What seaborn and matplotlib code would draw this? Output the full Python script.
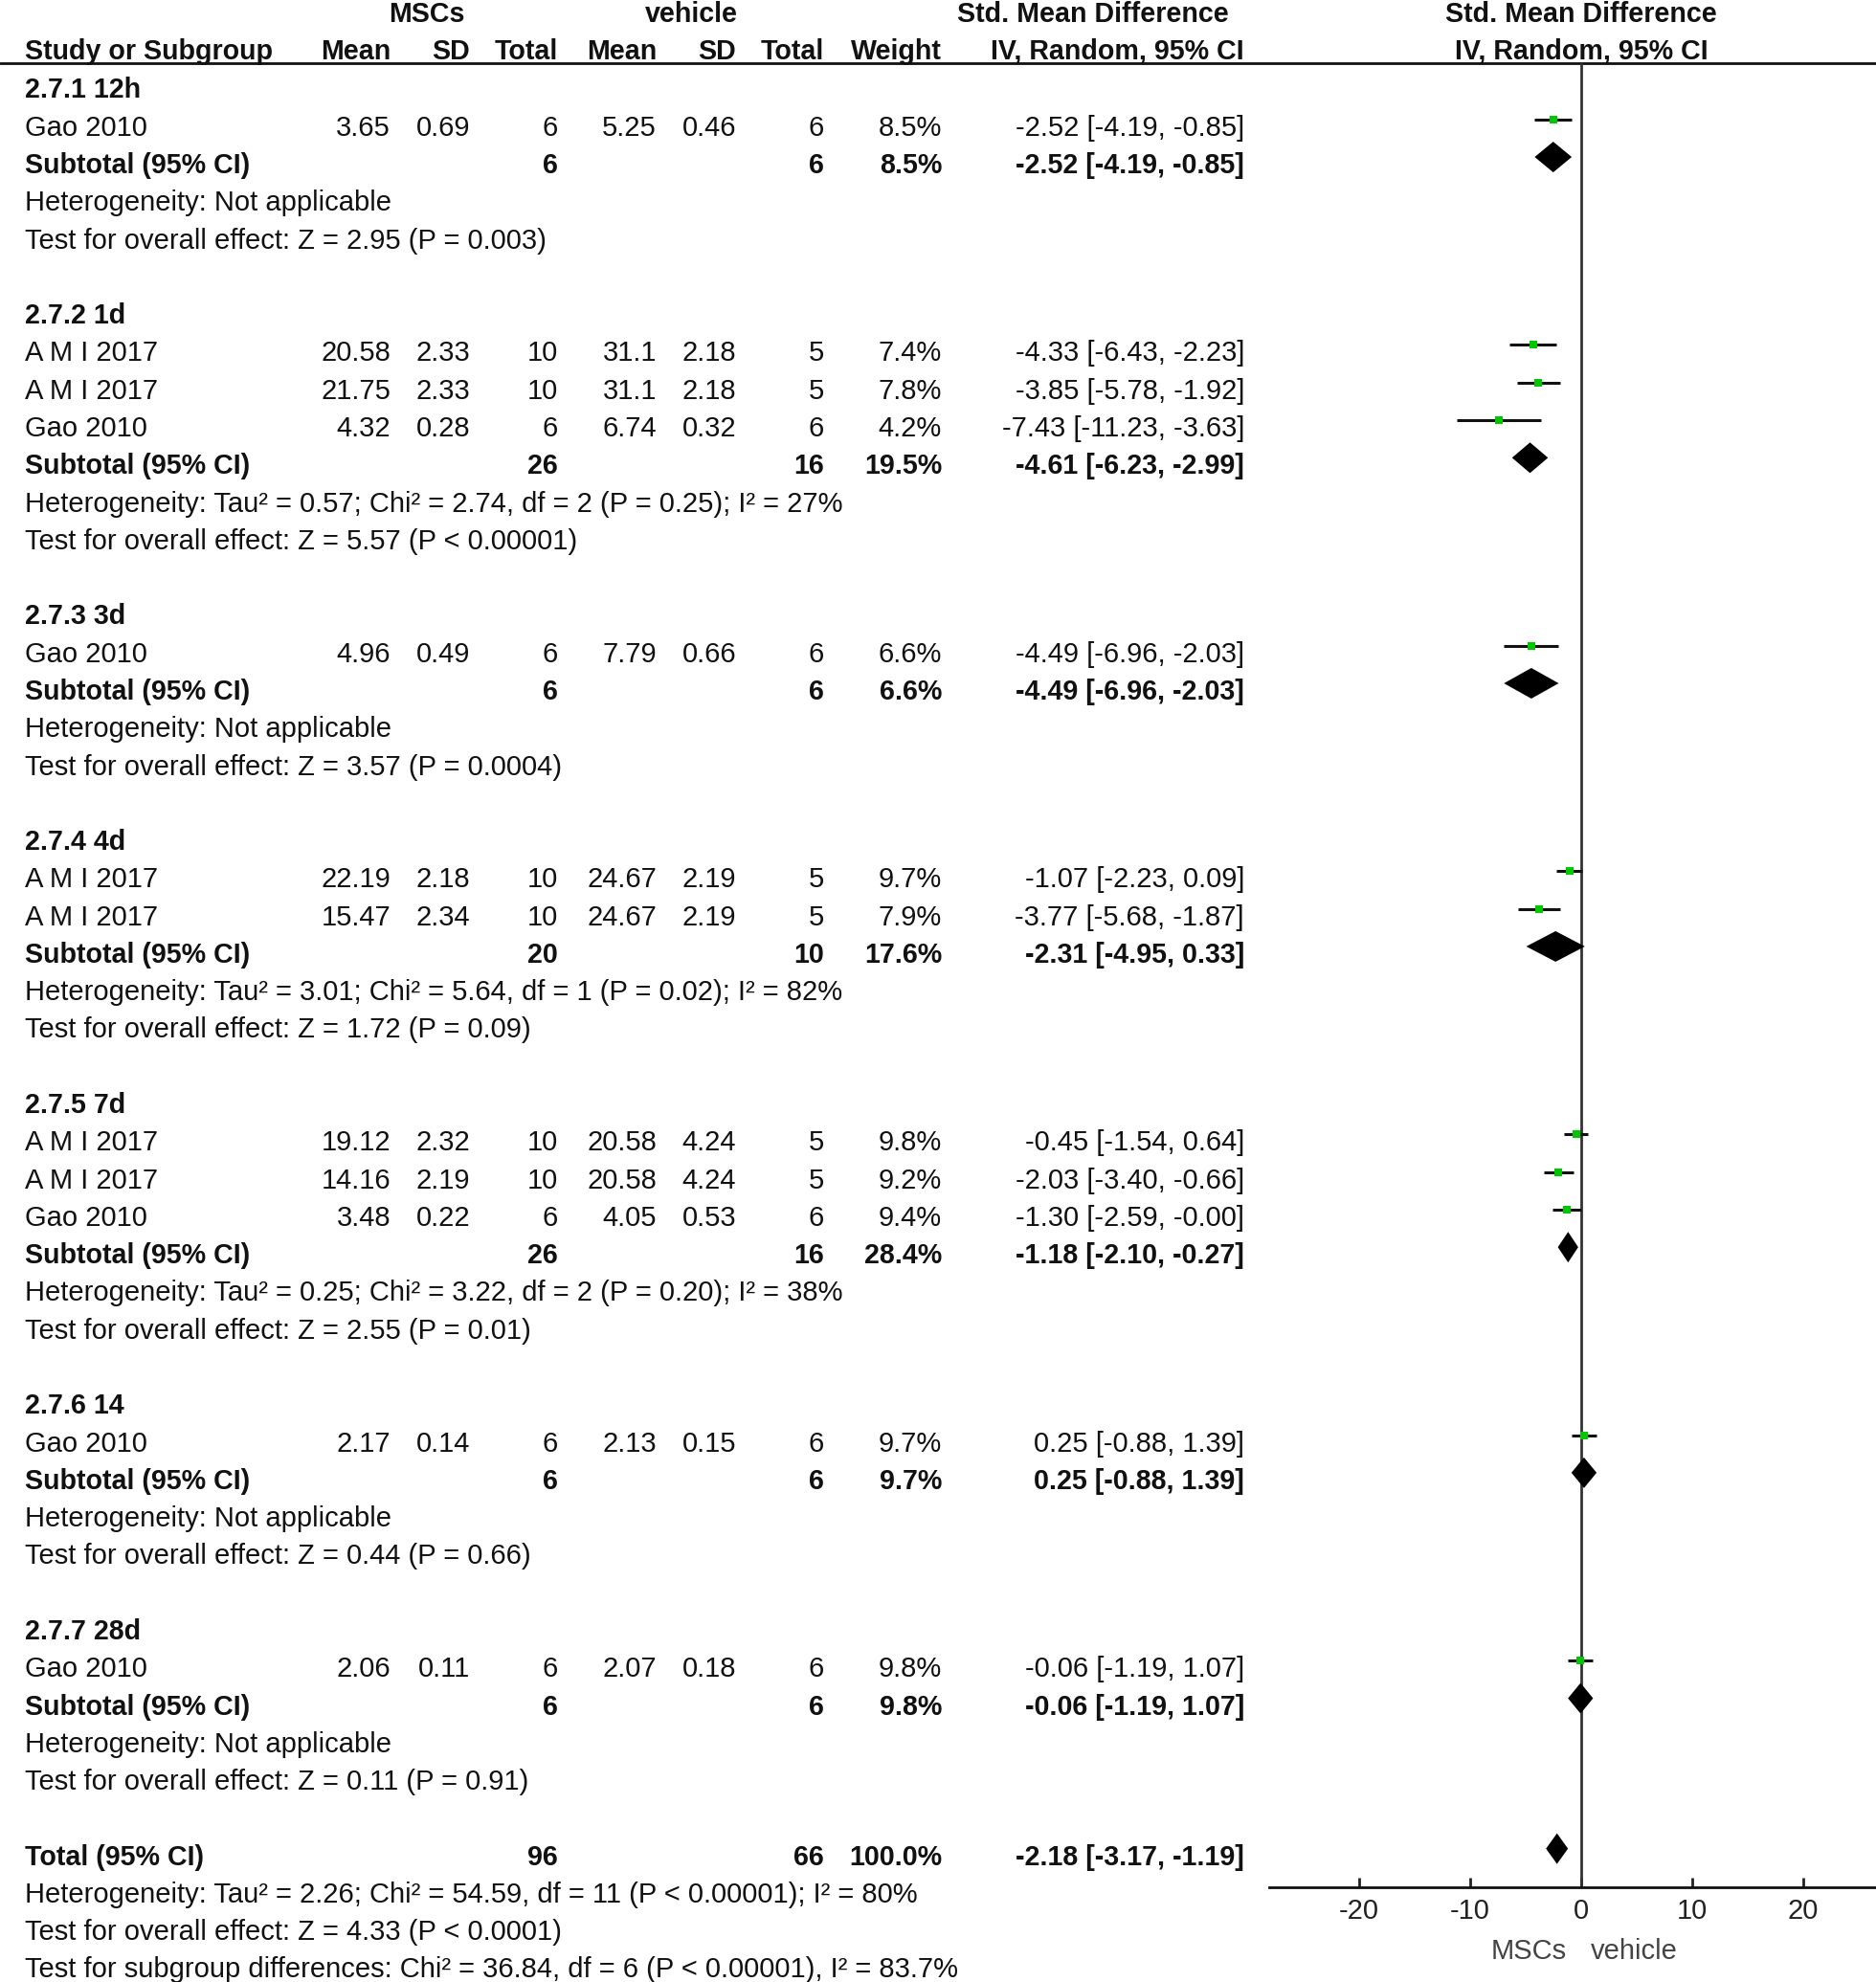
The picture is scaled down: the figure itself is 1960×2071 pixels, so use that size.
import numpy as np
import pandas as pd
import matplotlib
matplotlib.use('Agg')
import matplotlib.pyplot as plt
import seaborn as sns

# ---------------- data ----------------
group_labels = ['2.7.1 12h', '2.7.2 1d', '2.7.3 3d', '2.7.4 4d', '2.7.5 7d', '2.7.6 14', '2.7.7 28d']
study_group = [0, 1, 1, 1, 2, 3, 3, 4, 4, 4, 5, 6]
study_names = ['Gao 2010', 'A M I 2017', 'A M I 2017', 'Gao 2010', 'Gao 2010',
               'A M I 2017', 'A M I 2017', 'A M I 2017', 'A M I 2017', 'Gao 2010',
               'Gao 2010', 'Gao 2010']
msc_mean = [3.65, 20.58, 21.75, 4.32, 4.96, 22.19, 15.47, 19.12, 14.16, 3.48, 2.17, 2.06]
msc_sd = [0.69, 2.33, 2.33, 0.28, 0.49, 2.18, 2.34, 2.32, 2.19, 0.22, 0.14, 0.11]
msc_n = [6, 10, 10, 6, 6, 10, 10, 10, 10, 6, 6, 6]
veh_mean = [5.25, 31.1, 31.1, 6.74, 7.79, 24.67, 24.67, 20.58, 20.58, 4.05, 2.13, 2.07]
veh_sd = [0.46, 2.18, 2.18, 0.32, 0.66, 2.19, 2.19, 4.24, 4.24, 0.53, 0.15, 0.18]
veh_n = [6, 5, 5, 6, 6, 5, 5, 5, 5, 6, 6, 6]
weight = [8.5, 7.4, 7.8, 4.2, 6.6, 9.7, 7.9, 9.8, 9.2, 9.4, 9.7, 9.8]
smd = [-2.52, -4.33, -3.85, -7.43, -4.49, -1.07, -3.77, -0.45, -2.03, -1.30, 0.25, -0.06]
smd_lo = [-4.19, -6.43, -5.78, -11.23, -6.96, -2.23, -5.68, -1.54, -3.40, -2.59, -0.88, -1.19]
smd_hi = [-0.85, -2.23, -1.92, -3.63, -2.03, 0.09, -1.87, 0.64, -0.66, -0.00, 1.39, 1.07]

sub_msc_n = [6, 26, 6, 20, 26, 6, 6]
sub_veh_n = [6, 16, 6, 10, 16, 6, 6]
sub_weight = [8.5, 19.5, 6.6, 17.6, 28.4, 9.7, 9.8]
sub_smd = [-2.52, -4.61, -4.49, -2.31, -1.18, 0.25, -0.06]
sub_lo = [-4.19, -6.23, -6.96, -4.95, -2.10, -0.88, -1.19]
sub_hi = [-0.85, -2.99, -2.03, 0.33, -0.27, 1.39, 1.07]
sub_het = ['Heterogeneity: Not applicable',
           'Heterogeneity: Tau² = 0.57; Chi² = 2.74, df = 2 (P = 0.25); I² = 27%',
           'Heterogeneity: Not applicable',
           'Heterogeneity: Tau² = 3.01; Chi² = 5.64, df = 1 (P = 0.02); I² = 82%',
           'Heterogeneity: Tau² = 0.25; Chi² = 3.22, df = 2 (P = 0.20); I² = 38%',
           'Heterogeneity: Not applicable',
           'Heterogeneity: Not applicable']
sub_z = ['Test for overall effect: Z = 2.95 (P = 0.003)',
         'Test for overall effect: Z = 5.57 (P < 0.00001)',
         'Test for overall effect: Z = 3.57 (P = 0.0004)',
         'Test for overall effect: Z = 1.72 (P = 0.09)',
         'Test for overall effect: Z = 2.55 (P = 0.01)',
         'Test for overall effect: Z = 0.44 (P = 0.66)',
         'Test for overall effect: Z = 0.11 (P = 0.91)']

total_n = [96, 66]
total_weight = 100.0
total_smd, total_lo, total_hi = -2.18, -3.17, -1.19
total_notes = ['Heterogeneity: Tau² = 2.26; Chi² = 54.59, df = 11 (P < 0.00001); I² = 80%',
               'Test for overall effect: Z = 4.33 (P < 0.0001)',
               'Test for subgroup differences: Chi² = 36.84, df = 6 (P < 0.00001), I² = 83.7%']

x_ticks = [-20, -10, 0, 10, 20]

# ---------------- layout (pixels) ----------------
W, H = 1960, 2071
Y0, DY = 92.5, 39.28
FS = 21.0      # regular text
FS_B = 20.6    # bold text
X_NAME = 26
X_COLS = [408, 491, 583, 686, 769, 861, 984, 1300]
MARK_UP = 7

sns.set_theme(style='white')
plt.rcParams['font.family'] = ['Liberation Sans', 'DejaVu Sans']

fig = plt.figure(figsize=(W / 100, H / 100), dpi=100)
tab = fig.add_axes([0, 0, 1, 1])
tab.set_xlim(0, W)
tab.set_ylim(H, 0)
tab.axis('off')


def put(x, y, s, ha='left', bold=False, color='#111111'):
    tab.text(x, y + 10, s, ha=ha, va='baseline', fontsize=FS_B if bold else FS,
             fontweight='bold' if bold else 'normal', color=color)


def fmt(v):
    return f"{v:g}"


def ci(e, l, h):
    return f"{e:.2f} [{l:.2f}, {h:.2f}]"


# header
put(446, 13, 'MSCs', ha='center', bold=True)
put(722, 13, 'vehicle', ha='center', bold=True)
put(1142, 13, 'Std. Mean Difference', ha='center', bold=True)
put(1652, 13, 'Std. Mean Difference', ha='center', bold=True)
put(X_NAME, 52, 'Study or Subgroup', bold=True)
for x, s in zip(X_COLS, ['Mean', 'SD', 'Total', 'Mean', 'SD', 'Total', 'Weight',
                         'IV, Random, 95% CI']):
    put(x, 52, s, ha='right', bold=True)
put(1652, 52, 'IV, Random, 95% CI', ha='center', bold=True)
tab.plot([0, W], [66, 66], color='#111111', lw=2)

# table rows
study_y, diamonds = [], []
row = 0
for g, glab in enumerate(group_labels):
    put(X_NAME, Y0 + DY * row, glab, bold=True)
    row += 1
    for i in [k for k, sg in enumerate(study_group) if sg == g]:
        y = Y0 + DY * row
        put(X_NAME, y, study_names[i])
        vals = [fmt(msc_mean[i]), f"{msc_sd[i]:.2f}", str(msc_n[i]),
                fmt(veh_mean[i]), f"{veh_sd[i]:.2f}", str(veh_n[i]),
                f"{weight[i]:.1f}%", ci(smd[i], smd_lo[i], smd_hi[i])]
        for x, s in zip(X_COLS, vals):
            put(x, y, s, ha='right')
        study_y.append(y - MARK_UP)
        row += 1
    y = Y0 + DY * row
    put(X_NAME, y, 'Subtotal (95% CI)', bold=True)
    for x, s in zip([X_COLS[2], X_COLS[5], X_COLS[6], X_COLS[7]],
                    [str(sub_msc_n[g]), str(sub_veh_n[g]), f"{sub_weight[g]:.1f}%",
                     ci(sub_smd[g], sub_lo[g], sub_hi[g])]):
        put(x, y, s, ha='right', bold=True)
    diamonds.append((sub_smd[g], sub_lo[g], sub_hi[g], y - MARK_UP))
    row += 1
    put(X_NAME, Y0 + DY * row, sub_het[g])
    row += 1
    put(X_NAME, Y0 + DY * row, sub_z[g])
    row += 2

y = Y0 + DY * row
put(X_NAME, y, 'Total (95% CI)', bold=True)
for x, s in zip([X_COLS[2], X_COLS[5], X_COLS[6], X_COLS[7]],
                [str(total_n[0]), str(total_n[1]), f"{total_weight:.1f}%",
                 ci(total_smd, total_lo, total_hi)]):
    put(x, y, s, ha='right', bold=True)
diamonds.append((total_smd, total_lo, total_hi, y - MARK_UP))
for note in total_notes:
    row += 1
    put(X_NAME, Y0 + DY * row, note)

# forest panel
AX_L, AX_BOT, AX_TOP = 1326, 1972, 66
fx = fig.add_axes([AX_L / W, (H - AX_BOT) / H, (W - AX_L) / W, (AX_BOT - AX_TOP) / H])
fx.set_facecolor('none')
fx.set_ylim(AX_BOT, AX_TOP)
fx.set_xlim((AX_L - 1652) / 11.6, (W - 1652) / 11.6)

fx.axvline(0, color='#333333', lw=2, zorder=1)
fx.hlines(study_y, smd_lo, smd_hi, color='#111111', lw=2.2, zorder=2)
df = pd.DataFrame({'smd': smd, 'y': study_y})
sns.scatterplot(data=df, x='smd', y='y', marker='s', color='#00c800', s=30,
                linewidth=0, ax=fx, zorder=3, legend=False)
for est, lo, hi, yy in diamonds:
    fx.fill([lo, est, hi, est], [yy, yy - 16, yy, yy + 16], color='black', lw=0, zorder=4)

fx.set_xticks(x_ticks)
fx.set_xticklabels([str(t) for t in x_ticks])
fx.set_yticks([])
fx.set_xlabel('')
fx.set_ylabel('')
fx.tick_params(axis='x', direction='in', length=7.5, width=2, pad=8,
               labelsize=FS, colors='#222222', bottom=True)
for side in ['top', 'right', 'left']:
    fx.spines[side].set_visible(False)
fx.spines['bottom'].set_color('#111111')
fx.spines['bottom'].set_linewidth(2)

put(1637, 2037, 'MSCs', ha='right', color='#444444')
put(1662, 2037, 'vehicle', color='#444444')

fig.savefig('out.png', dpi=100)
